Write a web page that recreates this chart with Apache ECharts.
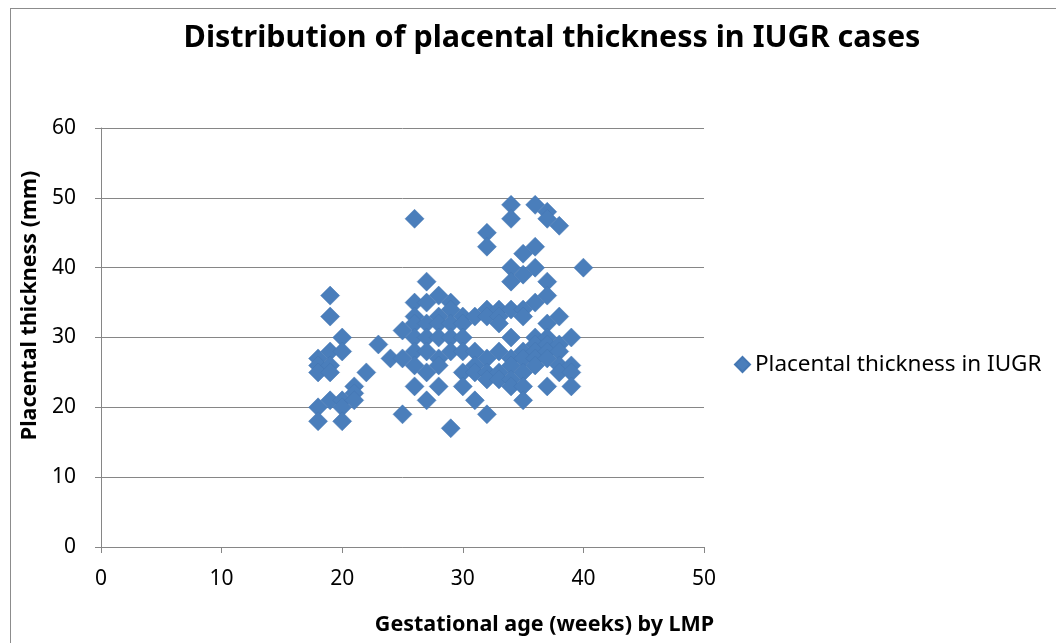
<!DOCTYPE html>
<html>
<head>
<meta charset="utf-8">
<script src="https://cdn.jsdelivr.net/npm/echarts@6/dist/echarts.min.js"></script>
<style>
	html, body { margin: 0; padding: 0; background: #fff; overflow: hidden; }
	#frame {
		position: absolute; left: 10px; top: 8px; width: 1100px; height: 700px;
		border: 1px solid #8c8c8c; box-sizing: border-box;
	}
	#main { position: absolute; left: 0; top: 0; width: 1056px; height: 643px; }
</style>
</head>
<body>
<div id="frame"></div>
<div id="main"></div>
<script>
	// gestational age (weeks) and placental thickness (mm), one entry per case
	const weeks = [
		18, 18, 18, 18, 18,
		19, 19, 19, 19, 19, 19,
		20, 20, 20, 20, 20,
		21, 21, 21,
		22, 23, 24,
		25, 25, 25,
		26, 26, 26, 26, 26, 26, 26, 26,
		27, 27, 27, 27, 27, 27, 27,
		28, 28, 28, 28, 28, 28, 28,
		29, 29, 29, 29, 29, 29,
		30, 30, 30, 30, 30, 30,
		31, 31, 31, 31, 31,
		32, 32, 32, 32, 32, 32, 32, 32,
		33, 33, 33, 33, 33, 33,
		34, 34, 34, 34, 34, 34, 34, 34, 34, 34,
		35, 35, 35, 35, 35, 35, 35, 35, 35,
		36, 36, 36, 36, 36, 36, 36, 36, 36,
		37, 37, 37, 37, 37, 37, 37, 37, 37, 37,
		38, 38, 38, 38, 38, 38,
		39, 39, 39, 39,
		40
	];
	const thickness = [
		27, 26, 25, 20, 18,
		36, 33, 28, 26, 25, 21,
		30, 28, 21, 20, 18,
		23, 22, 21,
		25, 29, 27,
		31, 27, 19,
		47, 35, 33, 32, 30, 28, 26, 23,
		38, 35, 32, 30, 28, 25, 21,
		36, 33, 32, 30, 27, 26, 23,
		35, 34, 32, 30, 28, 17,
		33, 32, 30, 28, 25, 23,
		33, 28, 26, 25, 21,
		45, 43, 34, 33, 27, 25, 24, 19,
		34, 33, 32, 28, 25, 24,
		49, 47, 40, 38, 34, 30, 27, 26, 24, 23,
		42, 39, 34, 33, 28, 27, 25, 23, 21,
		49, 43, 40, 35, 30, 29, 28, 27, 26,
		48, 47, 38, 36, 32, 30, 29, 28, 27, 23,
		46, 33, 29, 28, 26, 25,
		30, 26, 25, 23,
		40
	];
	const xTicks = [0, 50, 10];   // min, max, interval
	const yTicks = [0, 60, 10];

	let myChart = echarts.init(document.getElementById('main'));
	let font = 'Noto Sans, sans-serif';

	let option = {
		animation: false,
		title: {
			text: 'Distribution of placental thickness in IUGR cases',
			left: 547,
			top: 18,
			textAlign: 'center',
			textStyle: {
				fontFamily: font,
				fontSize: 30.5,
				fontWeight: 'bold',
				color: '#000'
			}
		},
		legend: {
			left: 729,
			top: 348,
			icon: 'diamond',
			itemWidth: 15,
			itemHeight: 15,
			textStyle: {
				fontFamily: font,
				fontSize: 22.5,
				color: '#000'
			},
			data: ['Placental thickness in IUGR']
		},
		grid: {
			left: 101,
			top: 128,
			width: 603,
			height: 419
		},
		xAxis: {
			type: 'value',
			min: xTicks[0],
			max: xTicks[1],
			interval: xTicks[2],
			name: 'Gestational age (weeks) by LMP',
			nameLocation: 'middle',
			nameGap: 67,
			nameTextStyle: {
				fontFamily: font,
				fontSize: 21.5,
				fontWeight: 'bold',
				color: '#000',
				padding: [0, 0, 0, 284]
			},
			axisLine: { show: true, lineStyle: { color: '#868686', width: 1 } },
			axisTick: { show: true, length: 6, lineStyle: { color: '#868686' } },
			axisLabel: { fontFamily: font, fontSize: 21, color: '#000', margin: 22 },
			splitLine: { show: false }
		},
		yAxis: {
			type: 'value',
			min: yTicks[0],
			max: yTicks[1],
			interval: yTicks[2],
			name: 'Placental thickness (mm)',
			nameLocation: 'middle',
			nameGap: 53,
			nameTextStyle: {
				fontFamily: font,
				fontSize: 21.5,
				fontWeight: 'bold',
				color: '#000',
				padding: [0, 0, 0, 64]
			},
			axisLine: { show: true, lineStyle: { color: '#868686', width: 1 } },
			axisTick: { show: true, length: 6, lineStyle: { color: '#868686' } },
			axisLabel: { fontFamily: font, fontSize: 21, color: '#000', margin: 25 },
			splitLine: { show: true, lineStyle: { color: '#868686', width: 1 } }
		},
		series: [{
			name: 'Placental thickness in IUGR',
			type: 'scatter',
			symbol: 'diamond',
			symbolSize: 19,
			itemStyle: {
				color: '#4a7ebb',
				borderColor: '#4477b3',
				borderWidth: 0.5,
				opacity: 1
			},
			data: weeks.map((w, i) => [w, thickness[i]])
		}]
	};

	myChart.setOption(option);
</script>
</body>
</html>
